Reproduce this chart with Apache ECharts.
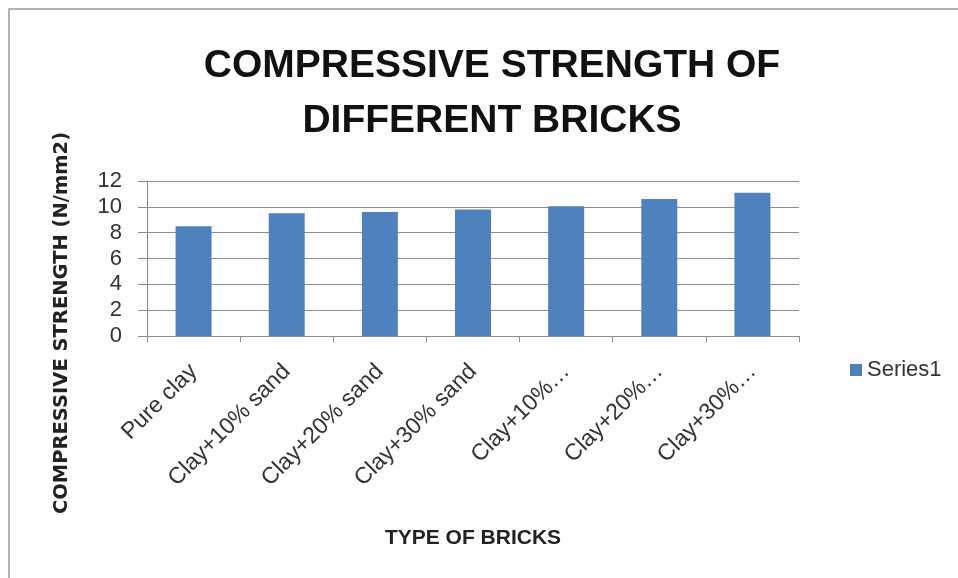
<!DOCTYPE html>
<html><head><meta charset="utf-8">
<script src="https://cdn.jsdelivr.net/npm/echarts@6/dist/echarts.min.js"></script>
<style>html,body{margin:0;padding:0;background:#fff}#c{width:958px;height:578px}</style>
</head><body><div id="c"></div>
<script>
var categories = ["Pure clay", "Clay+10% sand", "Clay+20% sand", "Clay+30% sand", "Clay+10%\u2026", "Clay+20%\u2026", "Clay+30%\u2026"];
var series1 = [8.5, 9.5, 9.6, 9.8, 10.05, 10.6, 11.1];
var yTicks = {min: 0, max: 12, interval: 2};
var yTitle = 'COMPRESSIVE STRENGTH (N/mm2)';

var sans = '"Liberation Sans", Arial, sans-serif';
var chart = echarts.init(document.getElementById('c'));
chart.setOption({
  animation: false,
  backgroundColor: '#fff',
  graphic: [
    {type: 'rect', shape: {x: 9, y: 9, width: 960, height: 580}, style: {fill: 'none', stroke: '#9a9a9a', lineWidth: 1.5}},
    {type: 'text', x: 62, y: 323, rotation: Math.PI / 2,
     style: {text: yTitle, align: 'center', verticalAlign: 'middle', fill: '#222',
             font: 'bold 19.5px "DejaVu Sans", sans-serif'}}
  ],
  title: {
    text: 'COMPRESSIVE STRENGTH OF\nDIFFERENT BRICKS',
    left: 487, textAlign: 'center', top: 34,
    textStyle: {fontFamily: sans, fontWeight: 'bold', fontSize: 39, lineHeight: 55, color: '#111'}
  },
  legend: {
    data: ['Series1'], left: 845, top: 354, itemWidth: 12, itemHeight: 12, itemGap: 5,
    icon: 'rect',
    textStyle: {fontFamily: sans, fontSize: 22, color: '#333'}
  },
  grid: {left: 147, right: 159, top: 181, bottom: 242},
  xAxis: {
    type: 'category', data: categories,
    name: 'TYPE OF BRICKS', nameLocation: 'middle', nameGap: 192,
    nameTextStyle: {fontFamily: sans, fontWeight: 'bold', fontSize: 21, color: '#222'},
    axisLine: {lineStyle: {color: '#8c8c8c', width: 1}},
    axisTick: {show: true, length: 6, lineStyle: {color: '#8c8c8c'}},
    axisLabel: {rotate: 45, fontFamily: sans, fontSize: 23, color: '#333', margin: 32, interval: 0}
  },
  yAxis: {
    type: 'value', min: yTicks.min, max: yTicks.max, interval: yTicks.interval,
    axisLine: {show: true, lineStyle: {color: '#8c8c8c'}},
    axisTick: {show: true, length: 9, lineStyle: {color: '#8c8c8c'}},
    splitLine: {lineStyle: {color: '#8c8c8c', width: 1}},
    axisLabel: {fontFamily: sans, fontSize: 22, color: '#333', margin: 25}
  },
  series: [{
    name: 'Series1', type: 'bar', data: series1,
    barWidth: 36,
    itemStyle: {color: '#4f81bd'}
  }]
});
</script></body></html>
